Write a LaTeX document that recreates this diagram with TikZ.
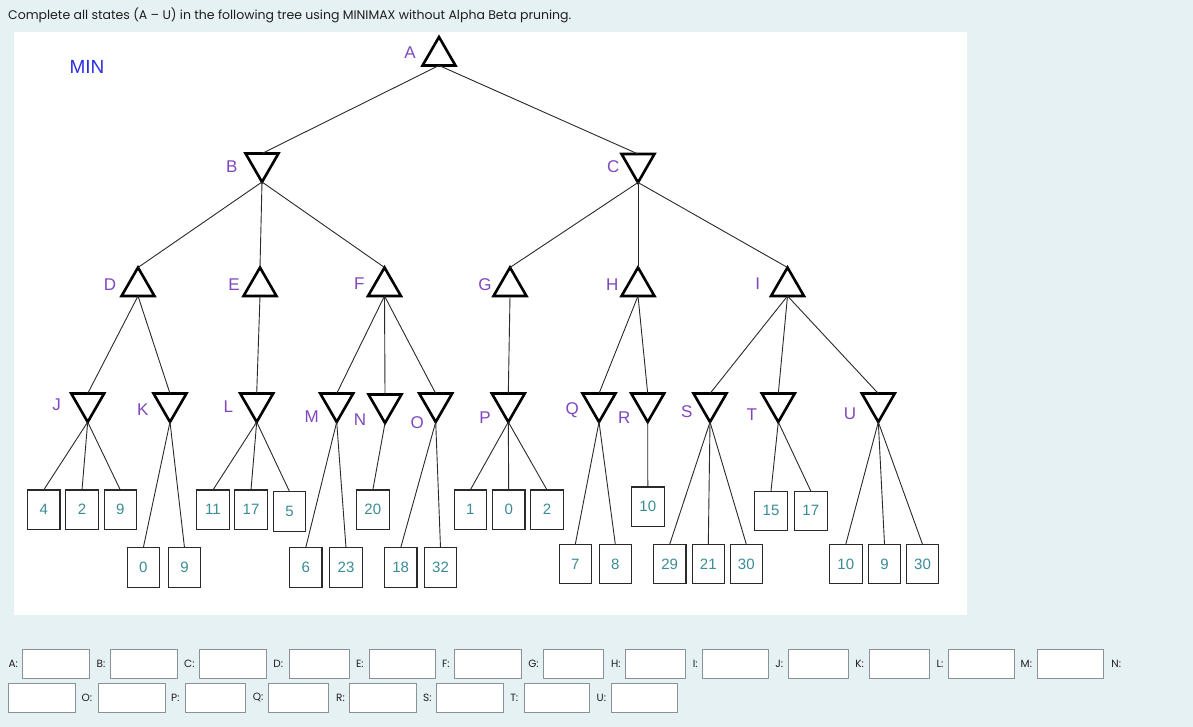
\documentclass[tikz,border=0pt]{standalone}
\usepackage{fontspec}
\setmainfont{Liberation Sans}
\newfontfamily\pop{Poppins}
\usetikzlibrary{shapes.geometric}
\definecolor{bgc}{HTML}{E6F1F4}
\definecolor{lblc}{HTML}{8047BE}
\definecolor{numc}{HTML}{3A8C96}
\definecolor{minc}{HTML}{2E2EE0}
\definecolor{edgec}{HTML}{2A2A2A}
\definecolor{fieldc}{HTML}{8A9298}
\definecolor{txtc}{HTML}{1E1E1E}
\tikzset{
 maxnode/.style={regular polygon, regular polygon sides=3, minimum size=38pt, inner sep=0pt, outer sep=0pt, draw=black, line width=2.6pt, line join=miter, fill=white},
 minnode/.style={maxnode, shape border rotate=180},
 leaf/.style={rectangle, draw=edgec, line width=1.1pt, minimum width=32.5pt, minimum height=39.5pt, inner sep=0pt, outer sep=0pt, text=numc, font=\fontsize{15}{15}\selectfont, fill=white},
 lbl/.style={text=lblc, font=\fontsize{17}{17}\selectfont, inner sep=0pt},
 edge/.style={draw=edgec, line width=0.9pt},
 field/.style={rectangle, draw=fieldc, line width=1pt, fill=white, minimum height=29pt, inner sep=0pt, anchor=west},
 flbl/.style={font=\pop\fontsize{10.5}{10.5}\selectfont, text=txtc, inner sep=0pt, anchor=west},
}
\begin{document}
\begin{tikzpicture}[x=1pt,y=-1pt]
\useasboundingbox (0,0) rectangle (1193,727);
\fill[bgc] (0,0) rectangle (1193,727);
\fill[white] (14,32) rectangle (967,615);
\node[anchor=west, font=\pop\fontsize{12.5}{12.5}\selectfont, text=txtc, inner sep=0pt] (title) at (8,15) {Complete all states (A – U) in the following tree using MINIMAX without Alpha Beta pruning.};
\node[text=minc, font=\fontsize{19}{19}\selectfont, inner sep=0pt] (min) at (87,67) {MIN};
% MAX nodes
\node[maxnode] (A) at (439,56) {};
\node[maxnode] (D) at (138,286.5) {};
\node[maxnode] (E) at (260,286.5) {};
\node[maxnode] (F) at (384.5,286.5) {};
\node[maxnode] (G) at (510,286.5) {};
\node[maxnode] (H) at (638,286.5) {};
\node[maxnode] (I) at (787.5,286.5) {};
% MIN nodes
\node[minnode] (B) at (262,163) {};
\node[minnode] (C) at (638,163.5) {};
\node[minnode] (J) at (87.7,403) {};
\node[minnode] (K) at (170,403) {};
\node[minnode] (L) at (256.7,403) {};
\node[minnode] (M) at (336.7,403) {};
\node[minnode] (N) at (385,404) {};
\node[minnode] (O) at (435.7,403) {};
\node[minnode] (P) at (508.3,403) {};
\node[minnode] (Q) at (599,403) {};
\node[minnode] (R) at (647.7,403) {};
\node[minnode] (S) at (710,403) {};
\node[minnode] (T) at (778.3,403) {};
\node[minnode] (U) at (878.3,403) {};
% labels
\node[lbl] (lA) at (410,53) {A};
\node[lbl] (lB) at (231.7,166.7) {B};
\node[lbl] (lC) at (613.3,166.7) {C};
\node[lbl] (lD) at (110,284.3) {D};
\node[lbl] (lE) at (234,284.3) {E};
\node[lbl] (lF) at (359.3,283.3) {F};
\node[lbl] (lG) at (485,284.3) {G};
\node[lbl] (lH) at (612.3,284.3) {H};
\node[lbl] (lI) at (757.7,283.3) {I};
\node[lbl] (lJ) at (56.7,405) {J};
\node[lbl] (lK) at (142.7,409.3) {K};
\node[lbl] (lL) at (228.3,406.7) {L};
\node[lbl] (lM) at (311.7,416.7) {M};
\node[lbl] (lN) at (360,419.3) {N};
\node[lbl] (lO) at (417.3,422.3) {O};
\node[lbl] (lP) at (485,417.3) {P};
\node[lbl] (lQ) at (572.3,410) {Q};
\node[lbl] (lR) at (624.3,417.7) {R};
\node[lbl] (lS) at (686.7,411.7) {S};
\node[lbl] (lT) at (751.7,415) {T};
\node[lbl] (lU) at (850,413.3) {U};
% leaves
\node[leaf] (J1) at (43.7,509.7) {4};
\node[leaf] (J2) at (82,509.7) {2};
\node[leaf] (J3) at (120.3,509.7) {9};
\node[leaf] (K1) at (143.3,567.5) {0};
\node[leaf] (K2) at (184.5,567.5) {9};
\node[leaf] (L1) at (213,509.7) {11};
\node[leaf] (L2) at (251,509.7) {17};
\node[leaf] (L3) at (289.5,511.3) {5};
\node[leaf] (M1) at (305.7,567.5) {6};
\node[leaf] (M2) at (346,567.5) {23};
\node[leaf] (N1) at (372.8,509.7) {20};
\node[leaf] (O1) at (400.7,567.5) {18};
\node[leaf] (O2) at (440.5,567.5) {32};
\node[leaf] (P1) at (470.3,509.7) {1};
\node[leaf] (P2) at (508.7,509.7) {0};
\node[leaf] (P3) at (547,509.7) {2};
\node[leaf] (Q1) at (575.3,564) {7};
\node[leaf] (Q2) at (615.3,564) {8};
\node[leaf] (R1) at (647.8,506.7) {10};
\node[leaf] (S1) at (669.7,564) {29};
\node[leaf] (S2) at (708.3,564) {21};
\node[leaf] (S3) at (746.3,564) {30};
\node[leaf] (T1) at (771,510.8) {15};
\node[leaf] (T2) at (810.8,510.8) {17};
\node[leaf] (U1) at (845.8,564) {10};
\node[leaf] (U2) at (884.5,564) {9};
\node[leaf] (U3) at (922.5,564) {30};
% edges: max -> min
\foreach \p/\c in {A/B, A/C, D/J, D/K, E/L, F/M, F/N, F/O, G/P, H/Q, H/R, I/S, I/T, I/U}
  \draw[edge] (\p.side 2) -- (\c.side 2);
% edges: min -> max
\foreach \p/\c in {B/D, B/E, B/F, C/G, C/H, C/I}
  \draw[edge] (\p.corner 1) -- (\c.corner 1);
% edges: min -> leaf
\foreach \p/\c in {J/J1, J/J2, J/J3, K/K1, K/K2, L/L1, L/L2, L/L3, M/M1, M/M2, N/N1, O/O1, O/O2, P/P1, P/P2, P/P3, Q/Q1, Q/Q2, R/R1, S/S1, S/S2, S/S3, T/T1, T/T2, U/U1, U/U2, U/U3}
  \draw[edge] (\p.corner 1) -- (\c.north);
% answer fields row 1
\node[flbl] (tA) at (8.4,663.8) {A:};
\node[field, minimum width=66.6pt] (fA) at (22.2,663.8) {};
\node[flbl] (tB) at (96.4,663.8) {B:};
\node[field, minimum width=66.6pt] (fB) at (110.2,663.8) {};
\node[flbl] (tC) at (184,663.8) {C:};
\node[field, minimum width=66.2pt] (fC) at (199.4,663.8) {};
\node[flbl] (tD) at (273.2,663.8) {D:};
\node[field, minimum width=60pt] (fD) at (288.6,663.8) {};
\node[flbl] (tE) at (355.9,663.8) {E:};
\node[field, minimum width=66.2pt] (fE) at (368.5,663.8) {};
\node[flbl] (tF) at (442,663.8) {F:};
\node[field, minimum width=66.2pt] (fF) at (454.3,663.8) {};
\node[flbl] (tG) at (528.1,663.8) {G:};
\node[field, minimum width=60pt] (fG) at (543.4,663.8) {};
\node[flbl] (tH) at (611,663.8) {H:};
\node[field, minimum width=59.7pt] (fH) at (625.2,663.8) {};
\node[flbl] (tI) at (692.6,663.8) {I:};
\node[field, minimum width=65.9pt] (fI) at (701.7,663.8) {};
\node[flbl] (tJ) at (775.2,663.8) {J:};
\node[field, minimum width=60pt] (fJ) at (788.2,663.8) {};
\node[flbl] (tK) at (855.2,663.8) {K:};
\node[field, minimum width=60pt] (fK) at (869,663.8) {};
\node[flbl] (tL) at (936.3,663.8) {L:};
\node[field, minimum width=65.9pt] (fL) at (947.8,663.8) {};
\node[flbl] (tM) at (1020.5,663.8) {M:};
\node[field, minimum width=66.2pt] (fM) at (1037,663.8) {};
\node[flbl] (tN) at (1111.2,663.8) {N:};
% answer fields row 2
\node[field, minimum width=66.2pt] (fN) at (8.4,697.8) {};
\node[flbl] (tO) at (81.5,697.8) {O:};
\node[field, minimum width=66.2pt] (fO) at (98.4,697.8) {};
\node[flbl] (tP) at (171,697.8) {P:};
\node[field, minimum width=60pt] (fP) at (184.5,697.8) {};
\node[flbl] (tQ) at (252.6,697.8) {Q:};
\node[field, minimum width=60pt] (fQ) at (268.3,697.8) {};
\node[flbl] (tR) at (336,697.8) {R:};
\node[field, minimum width=66.2pt] (fR) at (349.4,697.8) {};
\node[flbl] (tS) at (422.9,697.8) {S:};
\node[field, minimum width=66.2pt] (fS) at (436.3,697.8) {};
\node[flbl] (tT) at (510.1,697.8) {T:};
\node[field, minimum width=65.9pt] (fT) at (523.5,697.8) {};
\node[flbl] (tU) at (596.5,697.8) {U:};
\node[field, minimum width=65.9pt] (fU) at (611.4,697.8) {};
\end{tikzpicture}
\end{document}
